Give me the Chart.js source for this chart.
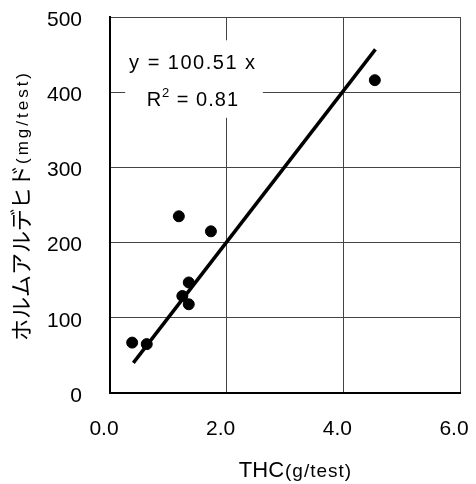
<!DOCTYPE html>
<html>
<head>
<meta charset="utf-8">
<script src="https://cdn.jsdelivr.net/npm/chart.js"></script>
<style>
  html, body { margin: 0; padding: 0; background: #fff; }
  #wrap { width: 476px; height: 484px; }
</style>
</head>
<body>
<div id="wrap"><canvas id="chart" width="476" height="484"></canvas></div>
<script>
// values
const thcValues = [0.38, 0.63, 1.18, 1.24, 1.35, 1.35, 1.73, 4.54];
const formaldehydeValues = [67, 65, 235, 129, 147, 118, 215, 416];
const fitX = [0.40, 4.55];
const fitY = [40, 457];
const xTicks = [0, 2, 4, 6];
const yTicks = [0, 100, 200, 300, 400, 500];
const fitText = "y = 100.51 x";
const r2Text = ["R", "2", " = 0.81"];
const xTitle = ["THC", "(g/test)"];
const yTitle = ["ホルムアルデヒド", "(mg/test)"];

const FONT = "'Liberation Sans', Arial, 'Noto Sans CJK JP', sans-serif";
const JP_FONT = "'Noto Sans CJK JP', 'Liberation Sans', sans-serif";

// white box with the regression formula, sits over the grid
const fitBox = {
  id: "fitBox",
  beforeDatasetsDraw(chart) {
    const { ctx, scales: { x, y } } = chart;
    const l = x.getPixelForValue(0.26), r = x.getPixelForValue(2.62);
    const t = y.getPixelForValue(469), b = y.getPixelForValue(366);
    ctx.save();
    ctx.fillStyle = "#fff";
    ctx.fillRect(l, t, r - l, b - t);
    ctx.fillStyle = "#000";
    ctx.textBaseline = "alphabetic";
    ctx.textAlign = "left";

    const cx = x.getPixelForValue(1.42);
    ctx.font = "20px " + FONT;
    ctx.letterSpacing = "1.5px";
    let w = ctx.measureText(fitText).width;
    ctx.fillText(fitText, cx - w / 2, y.getPixelForValue(431));

    // R² line
    ctx.letterSpacing = "1px";
    const wR = ctx.measureText(r2Text[0]).width;
    const wRest = ctx.measureText(r2Text[2]).width;
    ctx.font = "13px " + FONT;
    const w2 = ctx.measureText(r2Text[1]).width;
    let sx = cx - (wR + w2 + wRest) / 2;
    const base = y.getPixelForValue(381);
    ctx.font = "20px " + FONT;
    ctx.fillText(r2Text[0], sx, base);
    ctx.font = "13px " + FONT;
    ctx.fillText(r2Text[1], sx + wR, base - 9);
    ctx.font = "20px " + FONT;
    ctx.fillText(r2Text[2], sx + wR + w2, base);
    ctx.restore();
  }
};

// axis titles: main part plus a smaller unit in brackets
const axisTitles = {
  id: "axisTitles",
  afterDraw(chart) {
    const { ctx, chartArea: a } = chart;
    ctx.save();
    ctx.fillStyle = "#000";
    ctx.textBaseline = "alphabetic";
    ctx.textAlign = "left";

    // x title
    ctx.font = "22px " + FONT;
    const w1 = ctx.measureText(xTitle[0]).width;
    ctx.font = "19px " + FONT;
    ctx.letterSpacing = "1px";
    const w2 = ctx.measureText(xTitle[1]).width;
    let sx = (a.left + a.right) / 2 + 10 - (w1 + w2) / 2;
    ctx.letterSpacing = "0px";
    ctx.font = "22px " + FONT;
    ctx.fillText(xTitle[0], sx, 477);
    ctx.font = "19px " + FONT;
    ctx.letterSpacing = "1px";
    ctx.fillText(xTitle[1], sx + w1 + 1, 477);
    ctx.letterSpacing = "0px";

    // y title, rotated
    ctx.translate(29, (a.top + a.bottom) / 2 + 1);
    ctx.rotate(-Math.PI / 2);
    ctx.font = "22px " + JP_FONT;
    const v1 = ctx.measureText(yTitle[0]).width;
    ctx.font = "17px " + FONT;
    ctx.letterSpacing = "3px";
    const v2 = ctx.measureText(yTitle[1]).width;
    sx = -(v1 + v2) / 2;
    ctx.letterSpacing = "0px";
    ctx.font = "22px " + JP_FONT;
    ctx.fillText(yTitle[0], sx, 0);
    ctx.font = "17px " + FONT;
    ctx.letterSpacing = "3px";
    ctx.fillText(yTitle[1], sx + v1 + 1, -1);
    ctx.restore();
  }
};

new Chart(document.getElementById("chart"), {
  type: "scatter",
  data: {
    datasets: [
      {
        label: "data",
        data: thcValues.map((v, i) => ({ x: v, y: formaldehydeValues[i] })),
        backgroundColor: "#000",
        borderColor: "#000",
        pointRadius: 5.5,
        pointHoverRadius: 5.5,
        order: 1,
      },
      {
        type: "line",
        label: "fit",
        data: fitX.map((v, i) => ({ x: v, y: fitY[i] })),
        borderColor: "#000",
        borderWidth: 3.5,
        pointRadius: 0,
        fill: false,
        order: 2,
      },
    ],
  },
  options: {
    responsive: false,
    animation: false,
    events: [],
    layout: { padding: { top: 17, right: 16, left: 0, bottom: 0 } },
    plugins: { legend: { display: false }, tooltip: { enabled: false } },
    scales: {
      x: {
        type: "linear",
        min: 0, max: 6,
        afterBuildTicks: s => { s.ticks = xTicks.map(v => ({ value: v })); },
        afterFit: s => { s.height = 91; s.paddingLeft = 0; s.paddingRight = 0; },
        ticks: {
          color: "#000",
          font: { family: FONT, size: 21 },
          padding: 24,
          labelOffset: -6,
          callback: v => Number(v).toFixed(1),
        },
        grid: { color: "#444", lineWidth: 1, drawTicks: false },
        border: { color: "#000", width: 2 },
      },
      y: {
        type: "linear",
        min: 0, max: 500,
        afterBuildTicks: s => { s.ticks = yTicks.map(v => ({ value: v })); },
        afterFit: s => { s.width = 110; s.paddingTop = 0; s.paddingBottom = 0; },
        ticks: {
          color: "#000",
          font: { family: FONT, size: 21 },
          padding: 28,
          labelOffset: 3,
        },
        grid: { color: "#444", lineWidth: 1, drawTicks: false },
        border: { color: "#000", width: 2 },
      },
    },
  },
  plugins: [fitBox, axisTitles],
});
</script>
</body>
</html>
